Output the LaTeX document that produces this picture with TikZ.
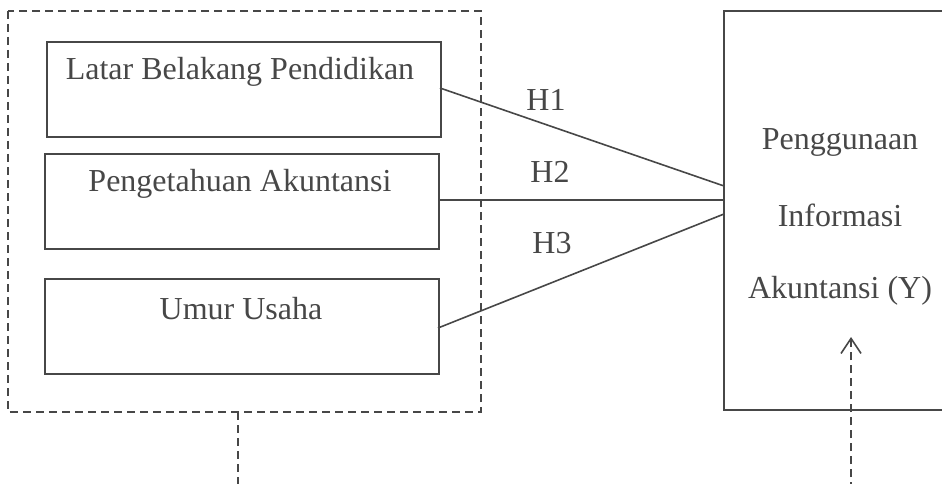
\documentclass[tikz,border=0pt]{standalone}
\usepackage{fontspec}
\setmainfont{Liberation Serif}
\usetikzlibrary{arrows.meta}
\begin{document}
\begin{tikzpicture}[x=1pt,y=-1pt,
  ln/.style={draw=black!72,line width=1.6pt},
  dsh/.style={draw=black!72,line width=1.6pt,dash pattern=on 8pt off 5pt},
  box/.style={ln,rectangle,inner sep=0pt,anchor=north west},
  lbl/.style={text=black!72,font=\fontsize{32}{38}\selectfont,inner sep=0pt}]
\useasboundingbox (0,0) rectangle (942,484);
% outer dashed group
\draw[dsh] (8,11) rectangle (481,412);
\coordinate (gb) at (238,412);
% left boxes
\node[box,minimum width=394pt,minimum height=95pt] (b1) at (46,41) {};
\node[box,minimum width=394pt,minimum height=95pt] (b2) at (44,153) {};
\node[box,minimum width=394pt,minimum height=95pt] (b3) at (44,278) {};
\node[lbl] (t1) at (240,72) {Latar Belakang Pendidikan};
\node[lbl] (t2) at (240,184) {Pengetahuan Akuntansi};
\node[lbl] (t3) at (241,309) {Umur Usaha};
% right box
\draw[ln] (960,11) -- (724,11) -- (724,410) -- (960,410);
\coordinate (y1) at (724,186);
\coordinate (y2) at (724,200);
\coordinate (y3) at (724,214);
\node[lbl] (r1) at (840,142) {Penggunaan};
\node[lbl] (r2) at (840,215) {Informasi};
\node[lbl] (r3) at (840,291) {Akuntansi (Y)};
% connectors
\coordinate (s1) at (440,88);
\coordinate (s2) at (438,200);
\coordinate (s3) at (438,328);
\draw[ln] (s1) -- (y1);
\draw[ln] (s2) -- (y2);
\draw[ln] (s3) -- (y3);
\node[lbl] (h1) at (546,100) {H1};
\node[lbl] (h2) at (550,172) {H2};
\node[lbl] (h3) at (552,243) {H3};
% dashed verticals
\coordinate (gbe) at (238,490);
\draw[dsh] (gb) -- (gbe);
\coordinate (ae) at (851,490);
\coordinate (at) at (851,337);
\draw[dsh,-{Straight Barb[length=15pt,width=20pt,line width=1.6pt]}] (ae) -- (at);
\end{tikzpicture}
\end{document}
